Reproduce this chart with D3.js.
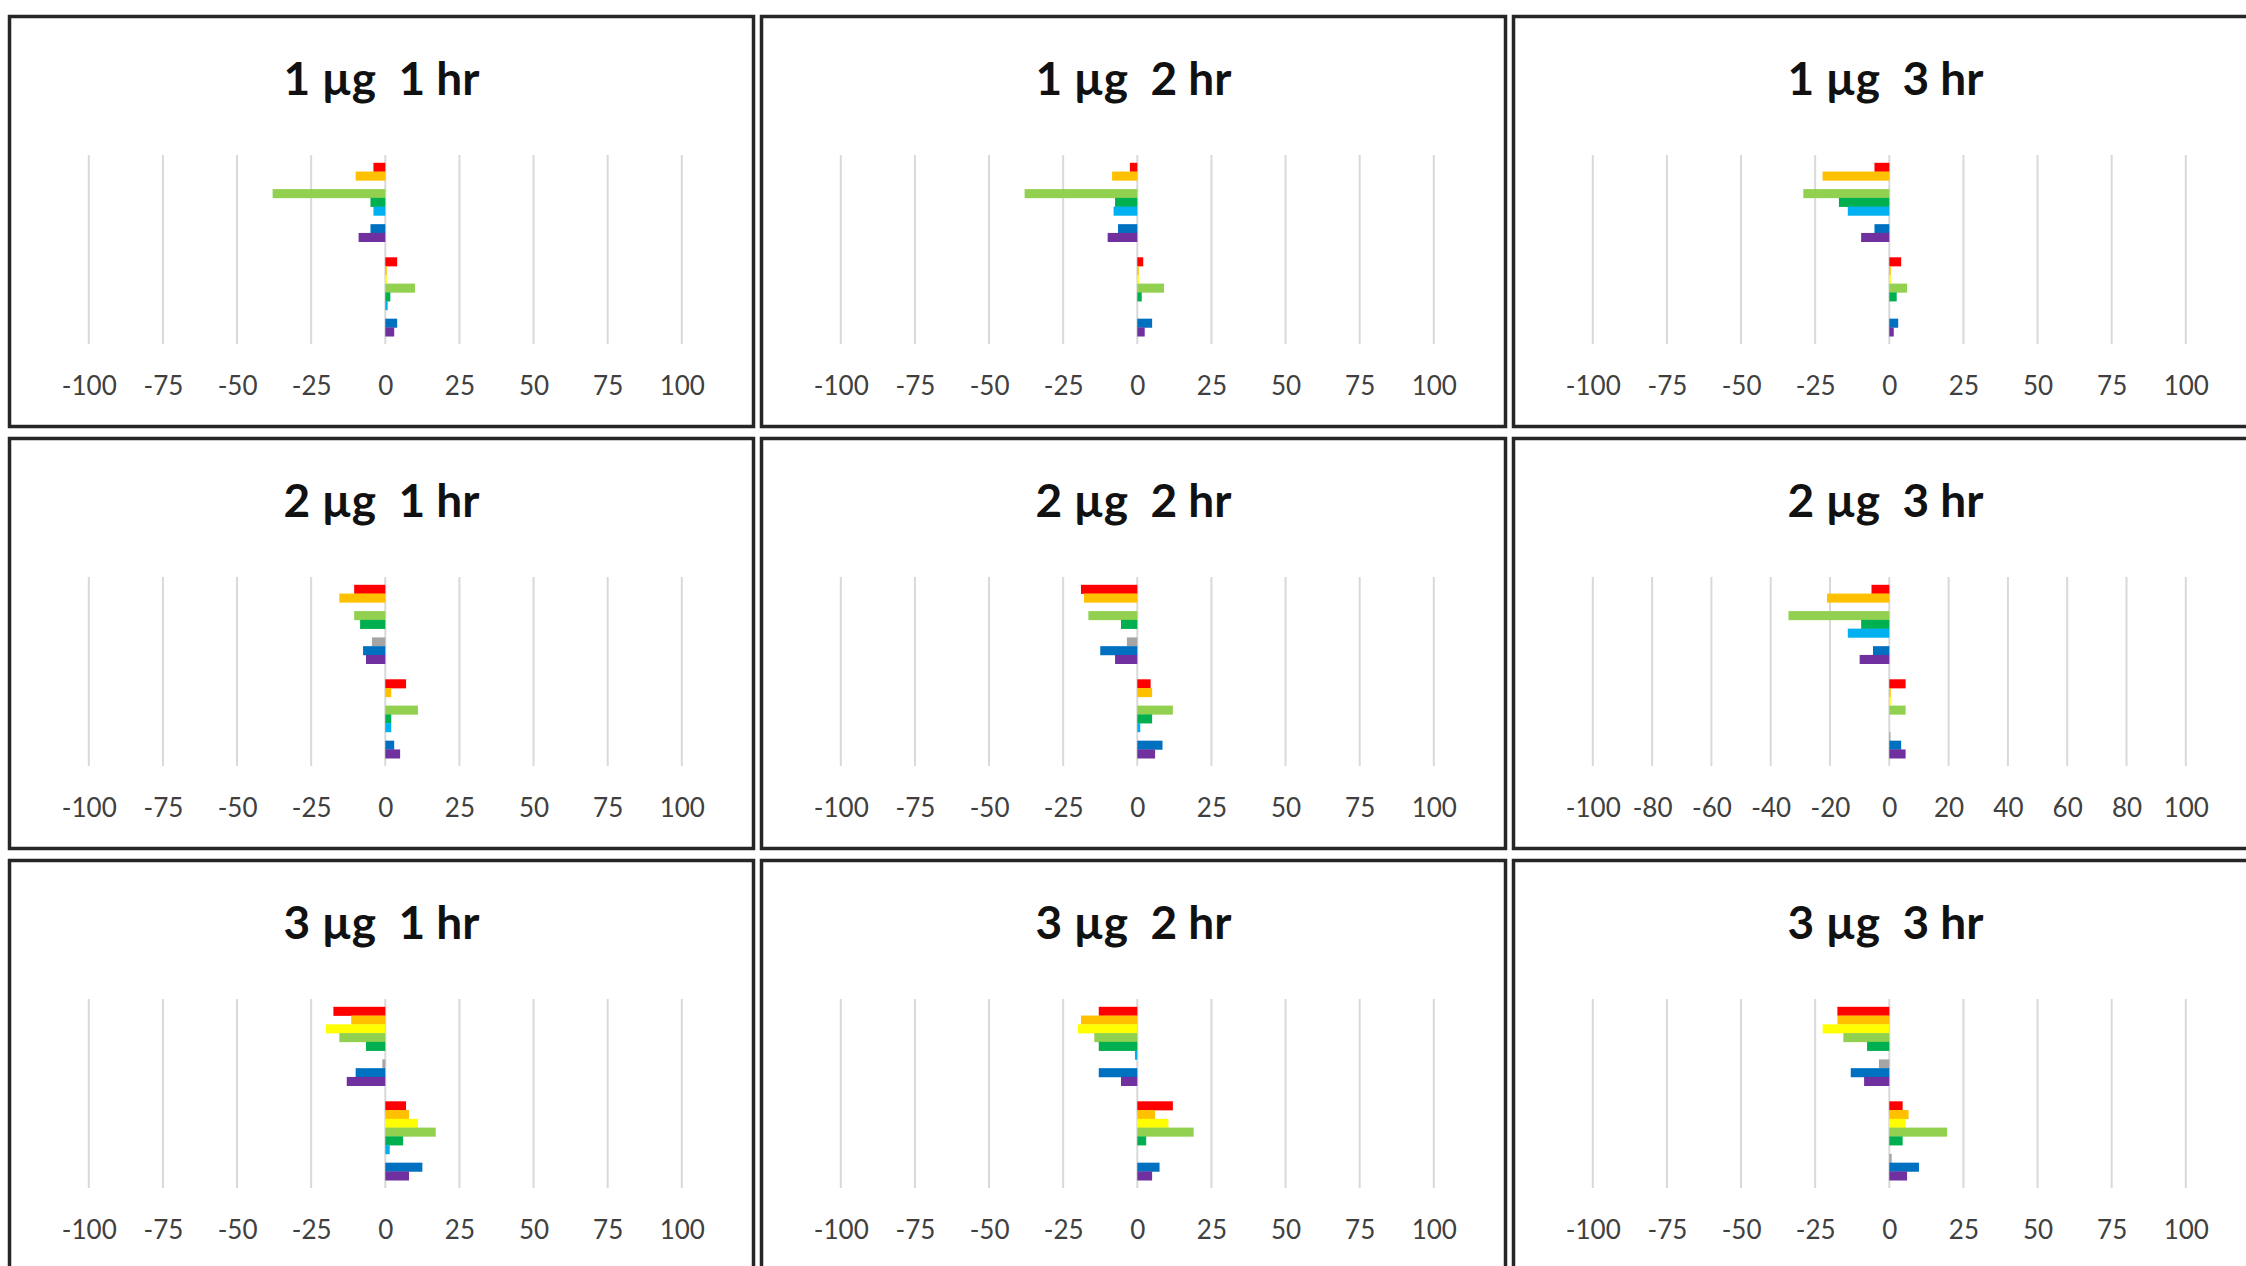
<!DOCTYPE html>
<html>
<head>
<meta charset="utf-8">
<script src="https://cdn.jsdelivr.net/npm/d3@7"></script>
<style>
  html, body { margin: 0; padding: 0; background: #fff; }
  svg { display: block; }
</style>
</head>
<body>
<div id="chart"></div>
<script>
// 3x3 grid of small diverging bar charts (dose x time)

const doses = ["1 µg", "2 µg", "3 µg"];
const times = ["1 hr", "2 hr", "3 hr"];
const groups = ["upper", "lower"];
const series = ["s1", "s2", "s3", "s4", "s5", "s6", "s7", "s8", "s9"];

// values per panel: [upper group, lower group], one value per series
const val_1ug_1hr = [[-4, -10, 0, -38, -5, -4, 0, -5, -9], [4, 0.5, 0.5, 10, 1.7, 0.8, 0, 4, 3]];
const val_1ug_2hr = [[-2.5, -8.5, 0, -38, -7.5, -8, 0, -6.5, -10], [2, 0.5, 0.5, 9, 1.5, 0, 0, 5, 2.5]];
const val_1ug_3hr = [[-5, -22.5, 0, -29, -17, -14, 0, -5, -9.5], [4, 0.5, 0.5, 6, 2.5, 0, 0, 3, 1.5]];
const val_2ug_1hr = [[-10.5, -15.5, 0, -10.5, -8.5, 0, -4.5, -7.5, -6.5], [7, 2, 0, 11, 2, 2, 0, 3, 5]];
const val_2ug_2hr = [[-19, -18, 0, -16.5, -5.5, 0, -3.5, -12.5, -7.5], [4.5, 5, 0, 12, 5, 1, 0, 8.5, 6]];
const val_2ug_3hr = [[-6, -21, 0, -34, -9.5, -14, 0, -5.5, -10], [5.5, 0.5, 0.5, 5.5, 0, 0, 0.4, 4, 5.5]];
const val_3ug_1hr = [[-17.5, -11.5, -20, -15.5, -6.5, 0, -1, -10, -13], [7, 8, 11, 17, 6, 1.5, 0, 12.5, 8]];
const val_3ug_2hr = [[-13, -19, -20, -14.5, -13, -0.8, 0, -13, -5.5], [12, 6, 10.5, 19, 3, 0, 0, 7.5, 5]];
const val_3ug_3hr = [[-17.5, -17.5, -22.5, -15.5, -7.5, 0, -3.5, -13, -8.5], [4.5, 6.5, 5.5, 19.5, 4.5, 0, 0.8, 10, 6]];

const ticks25 = [-100, -75, -50, -25, 0, 25, 50, 75, 100];
const ticks20 = [-100, -80, -60, -40, -20, 0, 20, 40, 60, 80, 100];

const panelValues = [
    [val_1ug_1hr, val_1ug_2hr, val_1ug_3hr],
    [val_2ug_1hr, val_2ug_2hr, val_2ug_3hr],
    [val_3ug_1hr, val_3ug_2hr, val_3ug_3hr]
];
const panelTicks = [
    [ticks25, ticks25, ticks25],
    [ticks25, ticks25, ticks20],
    [ticks25, ticks25, ticks25]
];

const colors = ["#FF0000", "#FFC000", "#FFFF00", "#92D050", "#00B050", "#00B0F0", "#A5A5A5", "#0070C0", "#7030A0"];

const width = 2246;
const height = 1266;
const panel = { x0: 9.5, y0: 16.5, stepX: 752, stepY: 422, w: 744, h: 410 };
const plot = { left: 79.3, right: 672.3, top: 138.5, bottom: 327.5 };
const fontFamily = "Lato, 'Open Sans', 'Liberation Sans', sans-serif";

const svg = d3.select("#chart").append("svg")
    .attr("width", width)
    .attr("height", height);

const x = d3.scaleLinear()
    .domain([-100, 100])
    .range([plot.left, plot.right]);

const yGroup = d3.scaleBand()
    .domain(groups)
    .range([plot.top, plot.bottom])
    .paddingInner(0.165)
    .paddingOuter(0.0825);

const ySeries = d3.scaleBand()
    .domain(series)
    .range([0, yGroup.bandwidth()]);

doses.forEach((dose, r) => {
    times.forEach((time, c) => {
        const values = panelValues[r][c];
        const ticks = panelTicks[r][c];

        const g = svg.append("g")
            .attr("transform", `translate(${panel.x0 + c * panel.stepX},${panel.y0 + r * panel.stepY})`);

        // gridlines
        g.append("g")
            .selectAll("line")
            .data(ticks)
            .join("line")
            .attr("x1", d => x(d))
            .attr("x2", d => x(d))
            .attr("y1", plot.top)
            .attr("y2", plot.bottom)
            .attr("stroke", "#D9D9D9")
            .attr("stroke-width", 2);

        // bars
        groups.forEach((grp, gi) => {
            g.append("g")
                .attr("transform", `translate(0,${yGroup(grp)})`)
                .selectAll("rect")
                .data(values[gi])
                .join("rect")
                .attr("x", d => x(Math.min(0, d)))
                .attr("width", d => Math.abs(x(d) - x(0)))
                .attr("y", (d, i) => ySeries(series[i]))
                .attr("height", ySeries.bandwidth() + 0.3)
                .attr("fill", (d, i) => colors[i]);
        });

        // tick labels (plain hyphen for negatives)
        const axis = g.append("g")
            .attr("transform", `translate(0,360)`)
            .call(d3.axisBottom(x).tickValues(ticks).tickSize(0).tickPadding(0).tickFormat(d => String(d)));
        axis.select(".domain").remove();
        axis.selectAll("text")
            .attr("fill", "#404040")
            .style("font-family", fontFamily)
            .style("font-size", "26px");

        // title
        g.append("text")
            .attr("x", panel.w / 2)
            .attr("y", 78)
            .attr("text-anchor", "middle")
            .style("font-family", fontFamily)
            .style("font-size", "46px")
            .style("font-weight", "bold")
            .style("white-space", "pre")
            .attr("fill", "#111")
            .text(`${dose}  ${time}`);

        // panel border
        g.append("rect")
            .attr("width", panel.w)
            .attr("height", panel.h)
            .attr("fill", "none")
            .attr("stroke", "#262626")
            .attr("stroke-width", 3.5);
    });
});
</script>
</body>
</html>
